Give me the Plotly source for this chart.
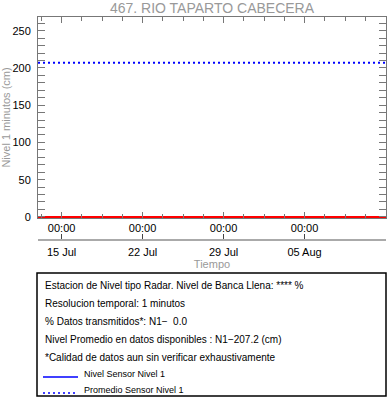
import plotly.graph_objects as go

# ---- data ----
x_range = ["2023-07-12 23:00", "2023-08-12 01:00"]
zero_x = ["2023-07-12 23:00", "2023-08-12 01:00"]
zero_y = [0, 0]
nivel_x = ["2023-07-12 23:00", "2023-08-12 01:00"]
nivel_y = [None, None]
prom_x = ["2023-07-12 23:00", "2023-08-12 01:00"]
prom_y = [207.2, 207.2]

title_txt = "467. RIO TAPARTO CABECERA"
info_lines = [
    "Estacion de Nivel tipo Radar. Nivel de Banca Llena: **** %",
    "Resolucion temporal: 1 minutos",
    "% Datos transmitidos*: N1\u2212  0.0",
    "Nivel Promedio en datos disponibles : N1\u2212207.2 (cm)",
    "*Calidad de datos aun sin verificar exhaustivamente",
]
legend_names = ["Nivel Sensor Nivel 1", "Promedio Sensor Nivel 1"]

FONT = "Liberation Sans, Arial, Helvetica, sans-serif"
W, H = 388, 404
L, R = 38, 2
T, B = 17, 8
PW = W - L - R
PH = H - T - B


def py(pix):
    return (H - B - pix) / PH


def px(pix):
    return (pix - L) / PW


fig = go.Figure()
fig.add_trace(go.Scatter(x=zero_x, y=zero_y, mode="lines",
                         line=dict(color="#ff0000", width=2), showlegend=False,
                         hoverinfo="skip"))
fig.add_trace(go.Scatter(x=nivel_x, y=nivel_y, mode="lines", name=legend_names[0],
                         line=dict(color="#0000ff", width=1.5), showlegend=False))
fig.add_trace(go.Scatter(x=prom_x, y=prom_y, mode="lines", name=legend_names[1],
                         line=dict(color="#0000ff", width=2, dash="2px,3px"),
                         showlegend=False))
# invisible trace for the date axis
fig.add_trace(go.Scatter(x=x_range, y=[None, None], xaxis="x2", yaxis="y",
                         showlegend=False, hoverinfo="skip"))

axcol = "#777777"
fig.update_layout(
    width=W, height=H,
    margin=dict(l=L, r=R, t=T, b=B),
    paper_bgcolor="white", plot_bgcolor="white",
    font=dict(family=FONT, size=11, color="black"),
    title=dict(text=title_txt, x=0.5, xref="paper", xanchor="center",
               y=1 - 8 / H, yanchor="middle",
               font=dict(family=FONT, size=14, color="#999999")),
    xaxis=dict(
        type="date", range=x_range, domain=[0, 1],
        anchor="y", tick0="2023-07-15", dtick=7 * 86400000, tickformat="%H:%M",
        ticks="inside", ticklen=6, tickcolor=axcol, tickwidth=1,
        showline=True, linecolor=axcol, linewidth=1, mirror="allticks",
        showgrid=False, zeroline=False,
        minor=dict(tick0="2023-07-15", dtick=42 * 3600000, ticks="inside",
                   ticklen=4, tickcolor=axcol, showgrid=False),
        tickfont=dict(size=11, color="black"),
        automargin=False,
    ),
    xaxis2=dict(
        type="date", range=x_range, overlaying="x", matches="x",
        anchor="free", position=py(240), side="bottom",
        tick0="2023-07-15", dtick=7 * 86400000, tickformat="%d %b",
        ticks="inside", ticklen=5, tickcolor="#444444",
        showline=True, linecolor="#aaaaaa", linewidth=2,
        showgrid=False, zeroline=False,
        tickfont=dict(size=11, color="black"), ticklabelstandoff=2,
        title=dict(text="Tiempo", standoff=1, font=dict(size=11, color="#999999")),
        automargin=False,
    ),
    yaxis=dict(
        range=[-1.5, 268.5], domain=[py(218), 1],
        dtick=50, tick0=0,
        ticks="inside", ticklen=7, tickcolor=axcol,
        showline=True, linecolor=axcol, linewidth=1, mirror="allticks",
        showgrid=False, zeroline=False,
        minor=dict(dtick=10, ticks="inside", ticklen=4, tickcolor=axcol, showgrid=False),
        tickfont=dict(size=11, color="black"), ticklabelstandoff=4,
        title=dict(text="Nivel 1 minutos (cm)", standoff=2,
                   font=dict(size=11, color="#999999")),
        automargin=False,
    ),
    showlegend=False,
)

fig.add_shape(type="rect", xref="paper", yref="paper",
              x0=px(37), x1=px(386), y0=py(396), y1=py(273),
              line=dict(color="black", width=1.5), fillcolor="rgba(0,0,0,0)")

for i, line in enumerate(info_lines):
    fig.add_annotation(text=line, xref="paper", yref="paper",
                       x=px(43), y=py(285 + 18 * i),
                       xanchor="left", yanchor="middle", showarrow=False,
                       font=dict(size=10, color="black"))

# legend keys inside the box
key_styles = [dict(color="#0000ff", width=1.5), dict(color="#0000ff", width=1.5, dash="2px,3px")]
for i, (name, st) in enumerate(zip(legend_names, key_styles)):
    yk = 377 + 16 * i
    fig.add_shape(type="line", xref="paper", yref="paper",
                  x0=px(43), x1=px(78), y0=py(yk), y1=py(yk), line=st)
    fig.add_annotation(text=name, xref="paper", yref="paper",
                       x=px(82), y=py(yk - 3), xanchor="left", yanchor="middle",
                       showarrow=False, font=dict(size=9, color="black"))

fig.write_html("out.html", config={"displayModeBar": False},
               post_script="document.body.style.margin='0';document.body.style.overflow='hidden';")
